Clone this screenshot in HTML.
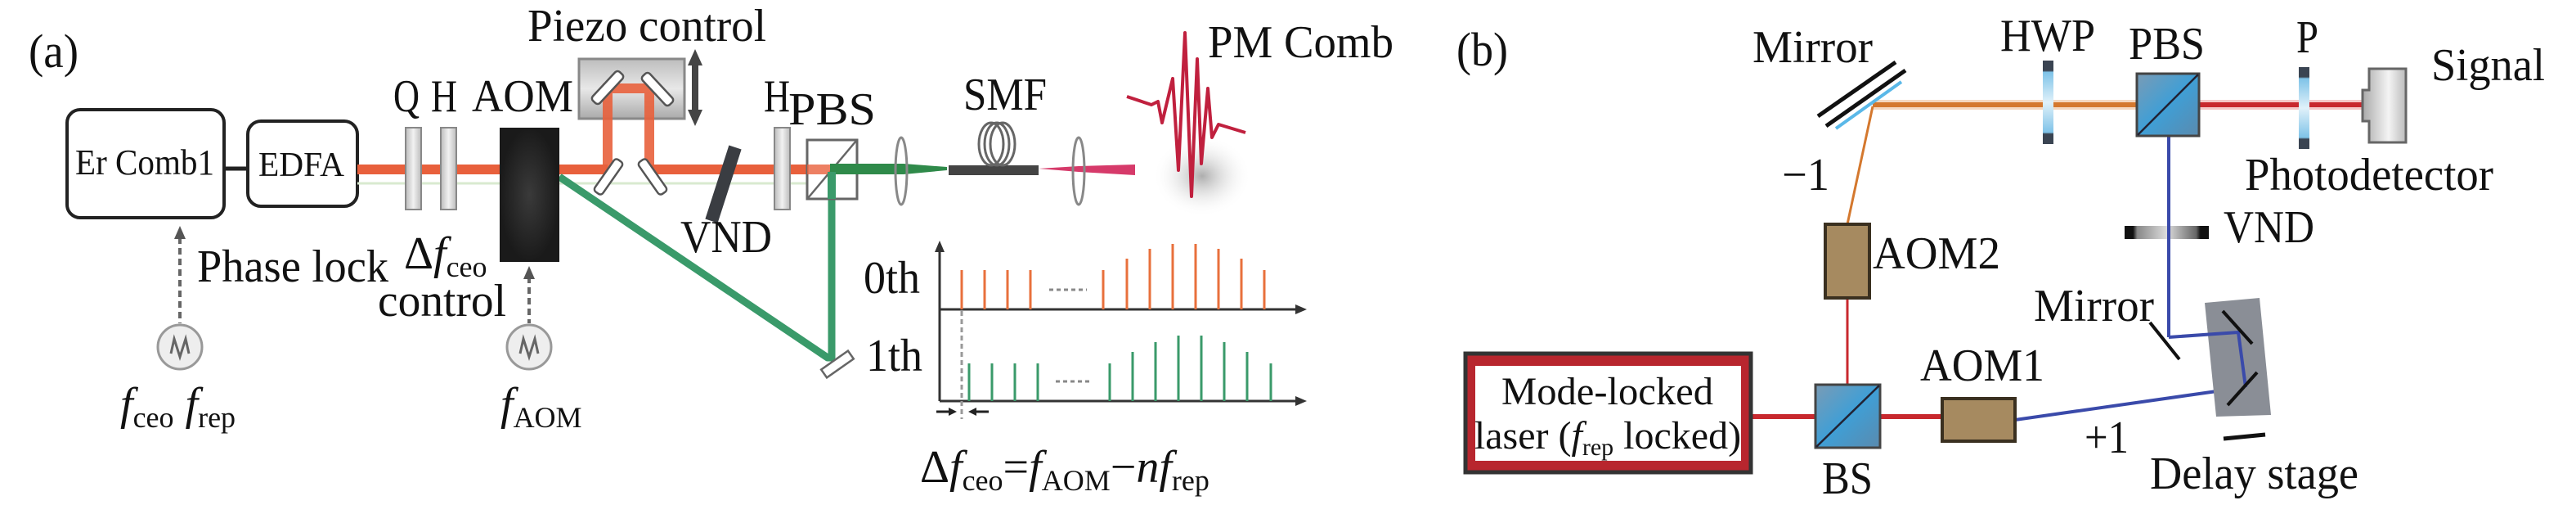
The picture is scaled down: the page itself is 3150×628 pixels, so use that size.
<!DOCTYPE html>
<html><head><meta charset="utf-8"><style>
html,body{margin:0;padding:0;background:#fff}
svg{display:block}
svg, svg text, svg tspan{font-family:"Liberation Serif","DejaVu Serif","Times New Roman",Times,serif !important}
text{fill:#111}
</style></head><body>
<svg width="3150" height="628" viewBox="0 0 3150 628" xmlns="http://www.w3.org/2000/svg" font-family="Liberation Serif, DejaVu Serif, serif">
<defs>
<linearGradient id="plate" x1="0" x2="1"><stop offset="0" stop-color="#bbb"/><stop offset=".5" stop-color="#f2f2f2"/><stop offset="1" stop-color="#bbb"/></linearGradient>
<linearGradient id="piezo" x1="0" y1="0" x2="0" y2="1"><stop offset="0" stop-color="#bdbdbd"/><stop offset=".5" stop-color="#e8e8e8"/><stop offset="1" stop-color="#aaa"/></linearGradient>
<linearGradient id="cube" x1="0" y1="0" x2="1" y2="1"><stop offset="0" stop-color="#7a9bb5"/><stop offset=".5" stop-color="#3f9fd6"/><stop offset="1" stop-color="#5a8aae"/></linearGradient>
<linearGradient id="wp" x1="0" y1="0" x2="0" y2="1"><stop offset="0" stop-color="#3a4452"/><stop offset=".12" stop-color="#3a4452"/><stop offset=".14" stop-color="#7fc3e8"/><stop offset=".5" stop-color="#e0f1fa"/><stop offset=".86" stop-color="#7fc3e8"/><stop offset=".88" stop-color="#3a4452"/><stop offset="1" stop-color="#3a4452"/></linearGradient>
<linearGradient id="vnd" x1="0" x2="1"><stop offset="0" stop-color="#111"/><stop offset=".1" stop-color="#111"/><stop offset=".15" stop-color="#888"/><stop offset=".5" stop-color="#ddd"/><stop offset=".85" stop-color="#666"/><stop offset=".9" stop-color="#111"/><stop offset="1" stop-color="#111"/></linearGradient>
<linearGradient id="pd" x1="0" x2="1"><stop offset="0" stop-color="#aaa"/><stop offset=".6" stop-color="#f4f4f4"/><stop offset="1" stop-color="#bbb"/></linearGradient>
<radialGradient id="shadow"><stop offset="0" stop-color="#999" stop-opacity=".8"/><stop offset="1" stop-color="#fff" stop-opacity="0"/></radialGradient>
<radialGradient id="aom"><stop offset="0" stop-color="#3a3a3a"/><stop offset="1" stop-color="#1a1a1a"/></radialGradient>
</defs>

<!-- ===== Panel (a) ===== -->
<text x="35" y="82" font-size="58" textLength="61" lengthAdjust="spacingAndGlyphs">(a)</text>
<rect x="82" y="134" width="192" height="132" rx="16" fill="#fff" stroke="#222" stroke-width="4"/>
<text x="92" y="213" font-size="44" textLength="170" lengthAdjust="spacingAndGlyphs">Er Comb1</text>
<line x1="274" y1="206" x2="303" y2="206" stroke="#222" stroke-width="5"/>
<rect x="303" y="148" width="134" height="104" rx="16" fill="#fff" stroke="#222" stroke-width="4"/>
<text x="316" y="215" font-size="42" textLength="105" lengthAdjust="spacingAndGlyphs">EDFA</text>

<rect x="437" y="201" width="306" height="12" fill="#e8603c"/>
<rect x="794" y="201" width="200" height="12" fill="#e8603c"/>
<line x1="437" y1="224" x2="990" y2="224" stroke="#d9ead0" stroke-width="3"/>

<rect x="496" y="156" width="19" height="100" fill="url(#plate)" stroke="#888" stroke-width="2"/>
<rect x="539" y="156" width="19" height="100" fill="url(#plate)" stroke="#888" stroke-width="2"/>
<text x="481" y="136" font-size="56" textLength="32" lengthAdjust="spacingAndGlyphs">Q</text>
<text x="527" y="136" font-size="56" textLength="32" lengthAdjust="spacingAndGlyphs">H</text>
<text x="577" y="136" font-size="56" textLength="124" lengthAdjust="spacingAndGlyphs">AOM</text>

<polyline points="684,216 1012,437 1017,437 1017,210" fill="none" stroke="#3a9a6a" stroke-width="9" stroke-linejoin="round"/>
<rect x="611" y="156" width="73" height="164" fill="url(#aom)"/>

<rect x="708" y="72" width="129" height="73" fill="url(#piezo)" stroke="#888" stroke-width="3"/>
<path d="M743 207 V108 H794 V207" fill="none" stroke="#e8603c" stroke-width="12" opacity=".9"/>
<g fill="#fff" stroke="#555" stroke-width="2.5">
<rect x="-24" y="-6" width="48" height="12" rx="4" transform="translate(743,107) rotate(-47)"/>
<rect x="-24" y="-6" width="48" height="12" rx="4" transform="translate(804,109) rotate(47)"/>
<rect x="-24" y="-6" width="48" height="12" rx="4" transform="translate(744,216) rotate(-55)"/>
<rect x="-24" y="-6" width="48" height="12" rx="4" transform="translate(798,216) rotate(55)"/>
</g>
<line x1="850" y1="70" x2="850" y2="146" stroke="#444" stroke-width="8"/>
<polygon points="850,60 841,80 859,80" fill="#444"/>
<polygon points="850,154 841,134 859,134" fill="#444"/>
<text x="645" y="50" font-size="56" textLength="292" lengthAdjust="spacingAndGlyphs">Piezo control</text>

<line x1="899" y1="180" x2="870" y2="270" stroke="#3a3d42" stroke-width="16"/>
<text x="832" y="308" font-size="56" textLength="112" lengthAdjust="spacingAndGlyphs">VND</text>

<rect x="947" y="156" width="19" height="100" fill="url(#plate)" stroke="#888" stroke-width="2"/>
<text x="934" y="136" font-size="56" textLength="32" lengthAdjust="spacingAndGlyphs">H</text>
<text x="964" y="152" font-size="56" textLength="107" lengthAdjust="spacingAndGlyphs">PBS</text>

<rect x="987" y="171" width="61" height="72" fill="#fff" stroke="#666" stroke-width="3"/>
<line x1="988" y1="242" x2="1047" y2="172" stroke="#666" stroke-width="2.5"/>
<rect x="987" y="201" width="28" height="12" fill="#e8603c" opacity=".8"/>
<polygon points="1015,200 1105,200 1158,204 1158,208 1105,213 1015,213" fill="#2f8a4a"/>
<rect x="1012" y="210" width="10" height="33" fill="#3a9a6a"/>
<ellipse cx="1102" cy="209" rx="7" ry="41" fill="none" stroke="#888" stroke-width="3"/>
<rect x="1160" y="202" width="110" height="12" fill="#444"/>
<g fill="none" stroke="#666" stroke-width="3">
<ellipse cx="1212" cy="176" rx="15" ry="26"/>
<ellipse cx="1219" cy="176" rx="15" ry="26"/>
<ellipse cx="1226" cy="176" rx="15" ry="26"/>
</g>
<text x="1178" y="134" font-size="56" textLength="102" lengthAdjust="spacingAndGlyphs">SMF</text>
<polygon points="1270,206 1319,203 1388,201 1388,214 1319,210" fill="#d63a6a"/>
<ellipse cx="1319" cy="209" rx="7" ry="41" fill="none" stroke="#888" stroke-width="3"/>
<ellipse cx="1470" cy="215" rx="60" ry="50" fill="url(#shadow)"/>
<polyline points="1378,118 1408,128 1416,124 1421,150 1434,96 1441,208 1449,40 1457,240 1464,72 1469,200 1477,108 1482,168 1490,152 1523,162" fill="none" stroke="#c0203e" stroke-width="4" stroke-linejoin="round"/>
<text x="1477" y="70" font-size="56" textLength="227" lengthAdjust="spacingAndGlyphs">PM Comb</text>

<rect x="-20" y="-6" width="40" height="12" fill="#fff" stroke="#666" stroke-width="2.5" transform="translate(1024,445) rotate(-35)"/>

<g stroke="#333" stroke-width="3">
<line x1="1149" y1="300" x2="1149" y2="490"/>
<line x1="1149" y1="378" x2="1590" y2="378"/>
<line x1="1149" y1="490" x2="1590" y2="490"/>
</g>
<polygon points="1149,294 1143,308 1155,308" fill="#333"/>
<polygon points="1598,378 1584,372 1584,384" fill="#333"/>
<polygon points="1598,490 1584,484 1584,496" fill="#333"/>
<g stroke="#e8703c" stroke-width="3">
<line x1="1176" y1="330" x2="1176" y2="378"/><line x1="1204" y1="330" x2="1204" y2="378"/>
<line x1="1232" y1="330" x2="1232" y2="378"/><line x1="1260" y1="330" x2="1260" y2="378"/>
<line x1="1349" y1="330" x2="1349" y2="378"/><line x1="1378" y1="316" x2="1378" y2="378"/>
<line x1="1406" y1="304" x2="1406" y2="378"/><line x1="1434" y1="298" x2="1434" y2="378"/>
<line x1="1462" y1="298" x2="1462" y2="378"/><line x1="1490" y1="304" x2="1490" y2="378"/>
<line x1="1518" y1="316" x2="1518" y2="378"/><line x1="1546" y1="330" x2="1546" y2="378"/>
</g>
<g stroke="#3a9a6a" stroke-width="3">
<line x1="1185" y1="444" x2="1185" y2="490"/><line x1="1213" y1="444" x2="1213" y2="490"/>
<line x1="1241" y1="444" x2="1241" y2="490"/><line x1="1269" y1="444" x2="1269" y2="490"/>
<line x1="1357" y1="444" x2="1357" y2="490"/><line x1="1385" y1="430" x2="1385" y2="490"/>
<line x1="1413" y1="418" x2="1413" y2="490"/><line x1="1441" y1="410" x2="1441" y2="490"/>
<line x1="1469" y1="410" x2="1469" y2="490"/><line x1="1497" y1="418" x2="1497" y2="490"/>
<line x1="1525" y1="430" x2="1525" y2="490"/><line x1="1554" y1="444" x2="1554" y2="490"/>
</g>
<line x1="1283" y1="354" x2="1329" y2="354" stroke="#888" stroke-width="3" stroke-dasharray="5,4"/>
<line x1="1291" y1="466" x2="1334" y2="466" stroke="#888" stroke-width="3" stroke-dasharray="5,4"/>
<line x1="1176" y1="380" x2="1176" y2="512" stroke="#999" stroke-width="3" stroke-dasharray="6,4"/>
<line x1="1145" y1="503" x2="1162" y2="503" stroke="#222" stroke-width="3"/>
<polygon points="1170,503 1160,498 1160,508" fill="#222"/>
<line x1="1192" y1="503" x2="1209" y2="503" stroke="#222" stroke-width="3"/>
<polygon points="1184,503 1194,498 1194,508" fill="#222"/>
<text x="1056" y="358" font-size="56" textLength="69" lengthAdjust="spacingAndGlyphs">0th</text>
<text x="1059" y="453" font-size="56" textLength="69" lengthAdjust="spacingAndGlyphs">1th</text>
<text x="1125" y="589" font-size="56">Δ<tspan font-style="italic">f</tspan><tspan font-size="36" dy="10">ceo</tspan><tspan dy="-10">=</tspan><tspan font-style="italic">f</tspan><tspan font-size="36" dy="10">AOM</tspan><tspan dy="-10">−</tspan><tspan font-style="italic">nf</tspan><tspan font-size="36" dy="10">rep</tspan></text>

<line x1="220" y1="290" x2="220" y2="395" stroke="#666" stroke-width="4" stroke-dasharray="8,5"/>
<polygon points="220,276 213,292 227,292" fill="#555"/>
<circle cx="220" cy="424" r="27" fill="#eee" stroke="#999" stroke-width="3"/>
<path d="M209 432 L213 414 L220 436 L227 414 L231 432" fill="none" stroke="#666" stroke-width="3"/>
<text x="241" y="344" font-size="56" textLength="234" lengthAdjust="spacingAndGlyphs">Phase lock</text>
<text x="147" y="512" font-size="56"><tspan font-style="italic">f</tspan><tspan font-size="36" dy="10">ceo</tspan><tspan dy="-10"> </tspan><tspan font-style="italic">f</tspan><tspan font-size="36" dy="10">rep</tspan></text>
<line x1="647" y1="338" x2="647" y2="395" stroke="#666" stroke-width="4" stroke-dasharray="8,5"/>
<polygon points="647,325 640,341 654,341" fill="#555"/>
<circle cx="647" cy="424" r="27" fill="#eee" stroke="#999" stroke-width="3"/>
<path d="M636 432 L640 414 L647 436 L654 414 L658 432" fill="none" stroke="#666" stroke-width="3"/>
<text x="612" y="512" font-size="56"><tspan font-style="italic">f</tspan><tspan font-size="36" dy="10">AOM</tspan></text>
<text x="494" y="328" font-size="56">Δ<tspan font-style="italic">f</tspan><tspan font-size="36" dy="10">ceo</tspan></text>
<text x="462" y="386" font-size="56" textLength="157" lengthAdjust="spacingAndGlyphs">control</text>

<!-- ===== Panel (b) ===== -->
<text x="1781" y="80" font-size="58" textLength="63" lengthAdjust="spacingAndGlyphs">(b)</text>
<line x1="2290" y1="128" x2="2612" y2="128" stroke="#f5d8c0" stroke-width="12"/>
<line x1="2290" y1="128" x2="2612" y2="128" stroke="#d4782e" stroke-width="6"/>
<line x1="2290" y1="130" x2="2259" y2="274" stroke="#d4782e" stroke-width="3"/>
<line x1="2688" y1="128" x2="2897" y2="128" stroke="#f5c8c8" stroke-width="12"/>
<line x1="2688" y1="128" x2="2897" y2="128" stroke="#c8282e" stroke-width="6"/>
<line x1="2259" y1="364" x2="2259" y2="470" stroke="#c8282e" stroke-width="3"/>
<line x1="2143" y1="509" x2="2375" y2="509" stroke="#c8282e" stroke-width="6"/>
<polyline points="2464,513 2746,473" fill="none" stroke="#3a4aaa" stroke-width="4"/>
<polyline points="2652,166 2652,412" fill="none" stroke="#3a4aaa" stroke-width="4"/>

<line x1="2223" y1="142" x2="2318" y2="76" stroke="#111" stroke-width="5"/>
<line x1="2233" y1="154" x2="2330" y2="86" stroke="#111" stroke-width="5"/>
<line x1="2245" y1="157" x2="2325" y2="100" stroke="#5ab8e8" stroke-width="4"/>
<text x="2143" y="76" font-size="56" textLength="147" lengthAdjust="spacingAndGlyphs">Mirror</text>
<text x="2179" y="232" font-size="56" textLength="58" lengthAdjust="spacingAndGlyphs">−1</text>

<rect x="2498" y="74" width="13" height="102" fill="url(#wp)"/>
<text x="2446" y="62" font-size="56" textLength="116" lengthAdjust="spacingAndGlyphs">HWP</text>
<rect x="2613" y="90" width="76" height="76" fill="url(#cube)" stroke="#444" stroke-width="3"/>
<line x1="2614" y1="165" x2="2688" y2="91" stroke="#223" stroke-width="2.5"/>
<text x="2603" y="72" font-size="56" textLength="93" lengthAdjust="spacingAndGlyphs">PBS</text>
<rect x="2811" y="82" width="13" height="100" fill="url(#wp)"/>
<text x="2808" y="64" font-size="56" textLength="27" lengthAdjust="spacingAndGlyphs">P</text>
<path d="M2897 84 H2942 V174 H2897 V148 H2889 V110 H2897 Z" fill="url(#pd)" stroke="#666" stroke-width="3"/>
<text x="2973" y="98" font-size="56" textLength="139" lengthAdjust="spacingAndGlyphs">Signal</text>
<text x="2745" y="232" font-size="56" textLength="304" lengthAdjust="spacingAndGlyphs">Photodetector</text>

<rect x="2232" y="274" width="54" height="90" fill="#a68a60" stroke="#3a3020" stroke-width="4"/>
<text x="2290" y="328" font-size="56" textLength="156" lengthAdjust="spacingAndGlyphs">AOM2</text>

<rect x="2598" y="276" width="103" height="16" fill="url(#vnd)"/>
<line x1="2652" y1="276" x2="2652" y2="292" stroke="#3a4aaa" stroke-width="4"/>
<text x="2719" y="296" font-size="56" textLength="111" lengthAdjust="spacingAndGlyphs">VND</text>

<polygon points="2696,370 2763,364 2777,507 2710,509" fill="#8a8e96"/>
<polyline points="2746,473 2737,406 2652,412" fill="none" stroke="#3a4aaa" stroke-width="4"/>
<line x1="2718" y1="380" x2="2754" y2="420" stroke="#111" stroke-width="4"/>
<line x1="2724" y1="495" x2="2760" y2="455" stroke="#111" stroke-width="4"/>
<line x1="2629" y1="394" x2="2665" y2="439" stroke="#111" stroke-width="4"/>
<text x="2487" y="392" font-size="56" textLength="147" lengthAdjust="spacingAndGlyphs">Mirror</text>
<line x1="2719" y1="536" x2="2770" y2="531" stroke="#111" stroke-width="5"/>
<text x="2629" y="597" font-size="56" textLength="255" lengthAdjust="spacingAndGlyphs">Delay stage</text>
<text x="2549" y="553" font-size="56" textLength="54" lengthAdjust="spacingAndGlyphs">+1</text>

<rect x="2220" y="470" width="79" height="77" fill="url(#cube)" stroke="#444" stroke-width="3"/>
<line x1="2221" y1="546" x2="2298" y2="471" stroke="#223" stroke-width="2.5"/>
<text x="2228" y="603" font-size="56" textLength="62" lengthAdjust="spacingAndGlyphs">BS</text>

<rect x="2375" y="487" width="89" height="52" fill="#a68a60" stroke="#3a3020" stroke-width="4"/>
<text x="2348" y="465" font-size="56" textLength="152" lengthAdjust="spacingAndGlyphs">AOM1</text>

<rect x="1792" y="432" width="349" height="145" fill="#b8262e" stroke="#333" stroke-width="5"/>
<rect x="1804" y="447" width="325" height="116" fill="#fff"/>
<text x="1836" y="494" font-size="48" textLength="259" lengthAdjust="spacingAndGlyphs">Mode-locked</text>
<text x="1966" y="548" font-size="48" text-anchor="middle">laser (<tspan font-style="italic">f</tspan><tspan font-size="30" dy="8">rep</tspan><tspan dy="-8"> locked)</tspan></text>
</svg>
</body></html>
